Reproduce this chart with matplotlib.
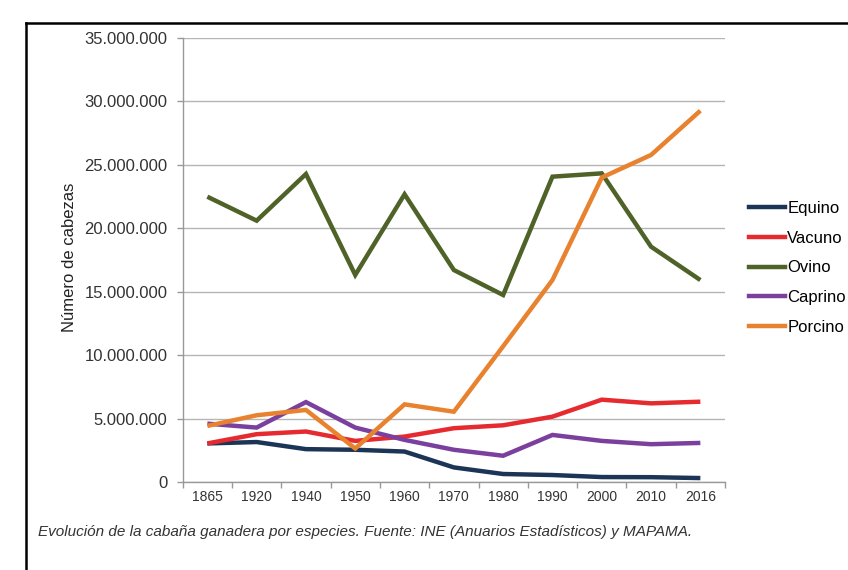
import matplotlib
matplotlib.use("Agg")
import matplotlib.pyplot as plt
from matplotlib.lines import Line2D
from matplotlib.ticker import FuncFormatter, FixedLocator

years = ["1865", "1920", "1940", "1950", "1960", "1970", "1980", "1990", "2000", "2010", "2016"]
equino = [3.04e6, 3.15e6, 2.59e6, 2.54e6, 2.40e6, 1.15e6, 0.63e6, 0.55e6, 0.39e6, 0.38e6, 0.31e6]
vacuno = [3.04e6, 3.77e6, 3.98e6, 3.24e6, 3.58e6, 4.24e6, 4.47e6, 5.15e6, 6.49e6, 6.20e6, 6.33e6]
ovino = [22.49e6, 20.6e6, 24.28e6, 16.32e6, 22.68e6, 16.71e6, 14.74e6, 24.07e6, 24.33e6, 18.55e6, 15.92e6]
caprino = [4.60e6, 4.29e6, 6.30e6, 4.29e6, 3.32e6, 2.54e6, 2.07e6, 3.71e6, 3.24e6, 2.98e6, 3.08e6]
porcino = [4.42e6, 5.26e6, 5.68e6, 2.64e6, 6.12e6, 5.54e6, 10.7e6, 15.92e6, 24.0e6, 25.78e6, 29.27e6]

series_names = ["Equino", "Vacuno", "Ovino", "Caprino", "Porcino"]
series_values = [equino, vacuno, ovino, caprino, porcino]
colors = ["#1c3557", "#e52b2f", "#4f6228", "#7b3f9e", "#e8822f"]

y_label = "Número de cabezas"
caption = "Evolución de la cabaña ganadera por especies. Fuente: INE (Anuarios Estadísticos) y MAPAMA."

plt.rcParams['font.family'] = ['Liberation Sans', 'DejaVu Sans']

W, H = 848, 570
fig = plt.figure(figsize=(W / 100, H / 100), dpi=100)
fig.patch.set_facecolor("white")

left, right, top, bottom = 182.7, 725, 38, 482
ax = fig.add_axes([left / W, 1 - bottom / H, (right - left) / W, (bottom - top) / H])

x = list(range(len(years)))
for name, vals, c in zip(series_names, series_values, colors):
    ax.plot(x, vals, color=c, lw=3.2, label=name, solid_joinstyle="miter", solid_capstyle="butt")

ax.set_xlim(-0.5, len(years) - 0.5)
ax.set_ylim(0, 35e6)
ax.set_yticks([i * 5e6 for i in range(8)])
ax.yaxis.set_major_formatter(FuncFormatter(lambda v, p: f"{int(v):,}".replace(",", ".")))
ax.grid(axis="y", color="#b5b5b5", lw=1.0)
ax.set_axisbelow(True)

ax.xaxis.set_major_locator(FixedLocator([i - 0.5 for i in range(len(years) + 1)]))
ax.xaxis.set_minor_locator(FixedLocator(x))
ax.set_xticklabels([], minor=False)
ax.set_xticklabels(years, minor=True)
ax.tick_params(axis="x", which="major", length=4, color="#999999", width=1)
ax.tick_params(axis="x", which="minor", length=0, pad=6, labelsize=10, labelcolor="#333333")
ax.tick_params(axis="y", length=4, color="#999999", width=1, pad=7, labelsize=12, labelcolor="#333333")

for s in ["top", "right"]:
    ax.spines[s].set_visible(False)
for s in ["left", "bottom"]:
    ax.spines[s].set_color("#999999")
    ax.spines[s].set_linewidth(1)

fig.text(69 / W, 1 - 257 / H, y_label, rotation=90, ha="center", va="center",
         fontsize=12, color="#222222")

handles = [Line2D([0], [0], color=c, lw=3.2) for c in colors]
fig.legend(handles, series_names, loc="center left", bbox_to_anchor=(749 / W, 1 - 268 / H),
           frameon=False, borderpad=0, borderaxespad=0, handlelength=2.15,
           handletextpad=0.15, labelspacing=0.88, fontsize=12)

fig.text(38 / W, 1 - 532 / H, caption, ha="left", va="center", fontsize=11,
         style="italic", color="#333333")

# black frame
fig.add_artist(Line2D([26 / W, 26 / W], [0, 1 - 23 / H], transform=fig.transFigure,
                      color="black", lw=1.8))
fig.add_artist(Line2D([26 / W, 1], [1 - 23 / H, 1 - 23 / H], transform=fig.transFigure,
                      color="black", lw=1.8))

fig.savefig("out.png", dpi=100)
